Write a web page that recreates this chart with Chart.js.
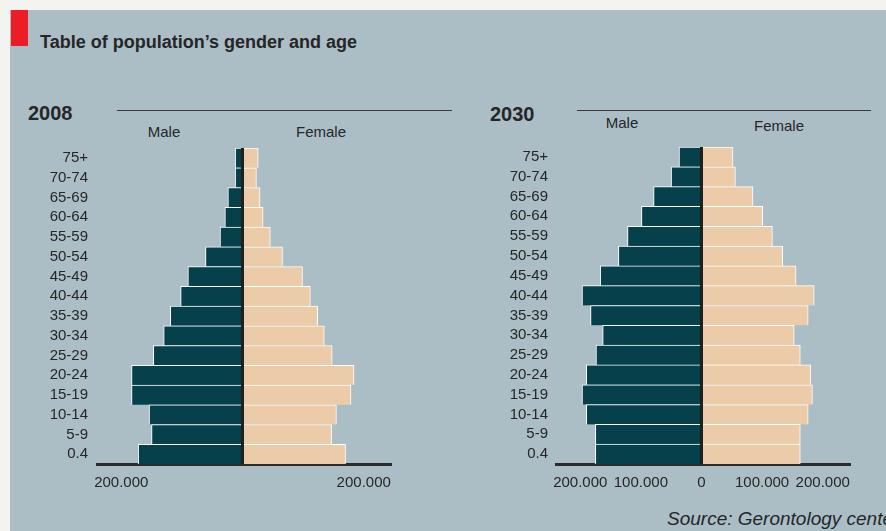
<!DOCTYPE html>
<html>
<head>
<meta charset="utf-8">
<script src="https://cdn.jsdelivr.net/npm/chart.js@4"></script>
<style>
  html, body { margin: 0; padding: 0; }
  body { width: 886px; height: 531px; overflow: hidden; background: #f3f4ef; position: relative;
         font-family: "Liberation Sans", Arial, sans-serif; color: #262626; }
  .panel { position: absolute; left: 10px; top: 10px; width: 876px; height: 521px; background: #abbec6; }
  .abs { position: absolute; line-height: 1; white-space: nowrap; }
  .red { position: absolute; left: 11px; top: 10px; width: 17px; height: 36px; background: #ee1c25; }
  .rule { position: absolute; height: 1px; background: #3a3a3a; }
  .lbl { position: absolute; width: 120px; text-align: center; font-size: 15px; line-height: 1; }
  canvas { position: absolute; }
</style>
</head>
<body>
<div class="panel"></div>
<div class="red"></div>
<div class="abs" style="left:40px; top:32.5px; font-size:18px; font-weight:bold;">Table of population’s gender and age</div>

<div class="abs" style="left:28px; top:103px; font-size:20px; font-weight:bold;">2008</div>
<div class="rule" style="left:117px; top:110px; width:335px;"></div>
<div class="lbl" style="left:104px; top:124px;">Male</div>
<div class="lbl" style="left:261px; top:123.5px;">Female</div>

<div class="abs" style="left:490px; top:103.7px; font-size:20px; font-weight:bold;">2030</div>
<div class="rule" style="left:577px; top:110px; width:294px;"></div>
<div class="lbl" style="left:562px; top:115px;">Male</div>
<div class="lbl" style="left:719px; top:118.3px;">Female</div>

<div class="abs" style="left:667px; top:509px; font-size:19px; font-style:italic;">Source: Gerontology center</div>

<canvas id="chart2008" width="430" height="374" style="left:0px; top:130px;"></canvas>
<canvas id="chart2030" width="426" height="374" style="left:460px; top:130px;"></canvas>

<script>
// age groups, top to bottom
const ageGroups = ["75+", "70-74", "65-69", "60-64", "55-59", "50-54", "45-49", "40-44",
                   "35-39", "30-34", "25-29", "20-24", "15-19", "10-14", "5-9", "0.4"];

const male2008   = [12000, 12000, 24000, 29000, 37000, 61000, 90000, 102000,
                    119000, 130000, 147000, 183000, 183000, 154000, 150000, 172000];
const female2008 = [26000, 23000, 29000, 34000, 46000, 66000, 99000, 112000,
                    124000, 135000, 148000, 184000, 179000, 155000, 147000, 170000];

const male2030   = [37000, 50000, 79000, 99000, 122000, 137000, 167000, 197000,
                    183000, 163000, 174000, 190000, 197000, 190000, 175000, 175000];
const female2030 = [52000, 56000, 85000, 101000, 117000, 134000, 156000, 186000,
                    176000, 153000, 163000, 180000, 183000, 176000, 163000, 163000];

const ticks2008 = [-200000, 200000];
const ticks2030 = [-200000, -100000, 0, 100000, 200000];

const MALE = '#05404b';
const FEMALE = '#eccca8';
const INK = '#262626';

function fmt(v) {
  if (v === 0) return '0';
  return Math.abs(v).toString().replace(/\B(?=(\d{3})+(?!\d))/g, '.');
}

// dark line at zero, drawn over the bars
const zeroLine = {
  id: 'zeroLine',
  afterDatasetsDraw(chart) {
    const { ctx, chartArea, scales } = chart;
    const x = scales.x.getPixelForValue(0);
    ctx.save();
    ctx.strokeStyle = '#1f1f1f';
    ctx.lineWidth = 3;
    ctx.beginPath();
    ctx.moveTo(x, chartArea.top);
    ctx.lineTo(x, chartArea.bottom);
    ctx.stroke();
    ctx.restore();
  }
};

function makePyramid(id, male, female, tickValues, yWidth, yPad, rightPad) {
  const ctx = document.getElementById(id).getContext('2d');
  const barStyle = {
    borderColor: '#ffffff',
    borderWidth: { top: 1, left: 1, right: 1, bottom: 0 },
    borderSkipped: false,
    barPercentage: 1,
    categoryPercentage: 1
  };
  return new Chart(ctx, {
    type: 'bar',
    data: {
      labels: ageGroups,
      datasets: [
        Object.assign({ label: 'Male', data: male.map(v => -v), backgroundColor: MALE }, barStyle),
        Object.assign({ label: 'Female', data: female, backgroundColor: FEMALE }, barStyle)
      ]
    },
    options: {
      responsive: false,
      animation: false,
      indexAxis: 'y',
      layout: { padding: { top: 15, right: rightPad, left: 0, bottom: 0 } },
      plugins: { legend: { display: false }, tooltip: { enabled: false } },
      scales: {
        x: {
          stacked: true,
          min: -240000,
          max: 245000,
          afterFit(scale) { scale.height = 40; },
          afterBuildTicks(scale) { scale.ticks = tickValues.map(v => ({ value: v })); },
          grid: { display: false, drawTicks: false },
          border: { display: true, color: '#2b2b2b', width: 3 },
          ticks: {
            autoSkip: false,
            maxRotation: 0,
            padding: 10,
            color: INK,
            font: { family: 'Liberation Sans', size: 15 },
            callback: v => fmt(v)
          }
        },
        y: {
          stacked: true,
          afterFit(scale) { scale.width = yWidth; },
          grid: { display: false, drawTicks: false },
          border: { display: false },
          ticks: {
            autoSkip: false,
            padding: yPad,
            color: INK,
            font: { family: 'Liberation Sans', size: 15 }
          }
        }
      }
    },
    plugins: [zeroLine]
  });
}

makePyramid('chart2008', male2008, female2008, ticks2008, 97, 9, 39);
makePyramid('chart2030', male2030, female2030, ticks2030, 96, 8, 36);
</script>
</body>
</html>
